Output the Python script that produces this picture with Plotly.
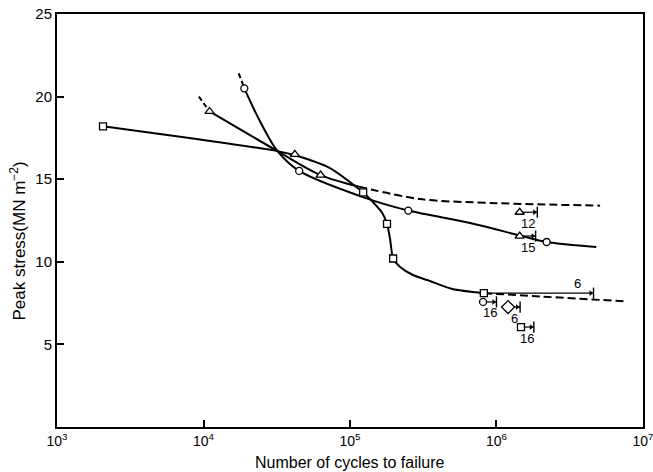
import numpy as np
import plotly.graph_objects as go

# ---- data ----
# fitted curves (knots)
sq_curve_x = [2060, 8000, 3.2e4, 4.2e4, 7.2e4, 1.23e5, 1.44e5, 1.65e5, 1.79e5, 1.88e5, 1.97e5, 2.19e5, 2.69e5, 3.36e5, 5.0e5, 8.2e5]
sq_curve_y = [18.2, 17.5, 16.7, 16.45, 15.7, 14.2, 13.6, 13.0, 12.3, 11.35, 10.2, 9.7, 9.2, 8.9, 8.35, 8.1]
sq_dash_x = [8.2e5, 2.0e6, 7.8e6]
sq_dash_y = [8.1, 7.9, 7.6]

tri_dash_top_x = [9.3e3, 1.1e4]
tri_dash_top_y = [20.0, 19.1]
tri_curve_x = [1.1e4, 3.2e4, 6.3e4, 1.15e5]
tri_curve_y = [19.1, 16.7, 15.25, 14.55]
tri_dash_x = [1.15e5, 3.0e5, 1.0e6, 5.1e6]
tri_dash_y = [14.55, 13.8, 13.55, 13.4]

circ_dash_top_x = [1.74e4, 1.9e4]
circ_dash_top_y = [21.4, 20.5]
circ_curve_x = [1.9e4, 2.4e4, 3.2e4, 4.5e4, 1.24e5, 2.5e5, 6.6e5, 1.44e6, 2.2e6, 4.8e6]
circ_curve_y = [20.5, 18.6, 16.7, 15.5, 13.9, 13.1, 12.35, 11.6, 11.2, 10.9]

# data points
squares_x = [2060, 1.23e5, 1.79e5, 1.97e5, 8.2e5, 1.47e6]
squares_y = [18.2, 14.2, 12.3, 10.2, 8.1, 6.05]
triangles_x = [1.1e4, 4.2e4, 6.3e4, 1.44e6, 1.44e6]
triangles_y = [19.1, 16.5, 15.25, 13.0, 11.56]
circles_x = [1.9e4, 4.5e4, 2.5e5, 2.2e6, 8.1e5]
circles_y = [20.5, 15.5, 13.1, 11.2, 7.57]
diamonds_x = [1.2e6]
diamonds_y = [7.26]

# run-outs (unbroken specimens): start, end, stress, label, label above?
runout_x0 = [1.44e6, 1.44e6, 8.2e5, 8.1e5, 1.2e6, 1.47e6]
runout_x1 = [1.9e6, 1.85e6, 4.6e6, 1.0e6, 1.45e6, 1.8e6]
runout_y = [13.0, 11.56, 8.1, 7.57, 7.26, 6.05]
runout_label = ["12", "15", "6", "16", "6", "16"]
runout_above = [False, False, True, False, False, False]

x_tickvals = [1e3, 1e4, 1e5, 1e6, 1e7]
x_ticktext = ["10<sup>3</sup>", "10<sup>4</sup>", "10<sup>5</sup>", "10<sup>6</sup>", "10<sup>7</sup>"]
y_tickvals = [5, 10, 15, 20, 25]
x_title = "Number of cycles to failure"
y_title = "Peak stress(MN m<sup>−2</sup>)"

FONT = "Liberation Sans, Arial, Helvetica, sans-serif"
fig = go.Figure()

def line(x, y, dash="solid", width=2.0, spline=True, smoothing=0.9):
    fig.add_trace(go.Scatter(
        x=x, y=y, mode="lines",
        line=dict(color="black", width=width, dash=dash,
                  shape="spline" if spline else "linear", smoothing=smoothing),
        hoverinfo="skip", showlegend=False))

DASH = "8px,4px"
line(sq_curve_x, sq_curve_y, smoothing=0.7)
line(sq_dash_x, sq_dash_y, dash=DASH)
line(tri_dash_top_x, tri_dash_top_y, dash="5px,3px", spline=False)
line(tri_curve_x, tri_curve_y)
line(tri_dash_x, tri_dash_y, dash=DASH)
line(circ_dash_top_x, circ_dash_top_y, dash="5px,3px", spline=False)
line(circ_curve_x, circ_curve_y)

# run-out arrows  ->|
for x0, x1, y, lab, above in zip(runout_x0, runout_x1, runout_y, runout_label, runout_above):
    fig.add_trace(go.Scatter(x=[x0, x1], y=[y, y], mode="lines",
                             line=dict(color="black", width=1.2),
                             hoverinfo="skip", showlegend=False))
    fig.add_trace(go.Scatter(x=[x1], y=[y], mode="markers",
                             marker=dict(symbol="line-ns", size=8,
                                         line=dict(color="black", width=1.4)),
                             hoverinfo="skip", showlegend=False))
    fig.add_trace(go.Scatter(x=[x1 / 1.045], y=[y], mode="markers",
                             marker=dict(symbol="triangle-right", size=5, color="black",
                                         line=dict(width=0)),
                             hoverinfo="skip", showlegend=False))
    lx = x1 / 1.28 if above else float(np.sqrt(x0 * x1))
    fig.add_annotation(x=float(np.log10(lx)), y=y, text=lab, showarrow=False,
                       yshift=10 if above else -11,
                       font=dict(family=FONT, size=13, color="black"))

def markers(x, y, symbol, size):
    fig.add_trace(go.Scatter(x=x, y=y, mode="markers",
                             marker=dict(symbol=symbol, size=size, color="white",
                                         line=dict(color="black", width=1.3)),
                             hoverinfo="skip", showlegend=False))

markers(squares_x, squares_y, "square", 7)
markers(triangles_x, triangles_y, "triangle-up", 8)
markers(circles_x, circles_y, "circle", 7)
markers(diamonds_x, diamonds_y, "diamond", 10)

# axis titles as annotations (positioned like the reference)
fig.add_annotation(xref="paper", yref="paper", x=0.5, y=-0.087, text=x_title,
                   showarrow=False, xanchor="center", yanchor="middle",
                   font=dict(family=FONT, size=16, color="black"))
fig.add_annotation(xref="paper", yref="paper", x=-0.066, y=0.45, text=y_title,
                   textangle=-90, showarrow=False, xanchor="center", yanchor="middle",
                   font=dict(family=FONT, size=17, color="black"))

fig.update_layout(
    width=653, height=472,
    margin=dict(l=57, r=10, t=14, b=45),
    paper_bgcolor="white", plot_bgcolor="white",
    font=dict(family=FONT, size=14, color="black"),
    showlegend=False,
)
fig.update_xaxes(
    type="log", range=[2.9998, 7.0004], automargin=False, ticklabeloverflow="allow",
    tickvals=x_tickvals, ticktext=x_ticktext,
    ticks="inside", ticklen=7, tickwidth=1.5, tickcolor="black",
    showline=True, linecolor="black", linewidth=2, mirror=True,
    showgrid=False, zeroline=False,
    tickfont=dict(size=14),
)
fig.update_yaxes(
    range=[0, 25], tickvals=y_tickvals, automargin=False,
    ticks="inside", ticklen=7, tickwidth=1.5, tickcolor="black",
    showline=True, linecolor="black", linewidth=2, mirror=True,
    showgrid=False, zeroline=False,
    tickfont=dict(size=15),
)

fig.write_html("out.html", config={"displayModeBar": False},
               post_script="document.body.style.margin='0px';document.body.style.overflow='hidden';")
